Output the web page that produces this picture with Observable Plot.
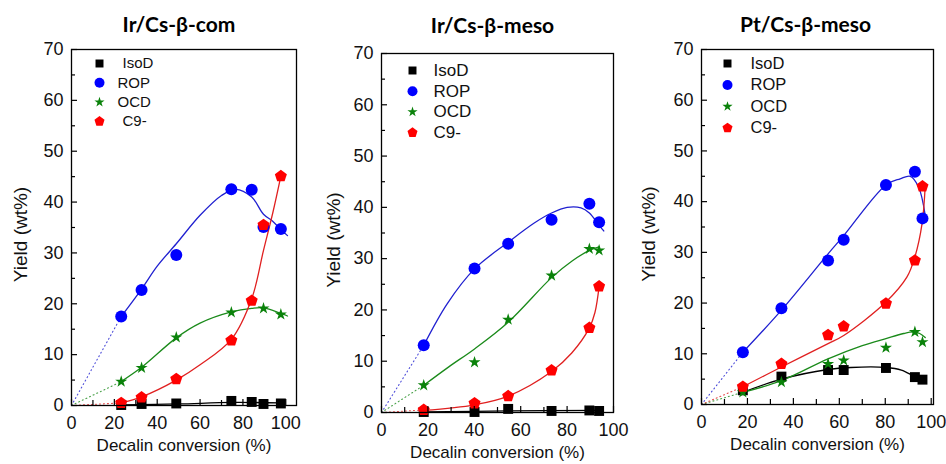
<!DOCTYPE html>
<html><head><meta charset="utf-8">
<script src="https://cdn.jsdelivr.net/npm/d3@7"></script>
<script src="https://cdn.jsdelivr.net/npm/@observablehq/plot@0.6"></script>
<style>
body{margin:0;background:#fff;}
#wrap{display:flex;width:946px;height:464px;overflow:hidden;}
#wrap svg{display:block;background:#fff;}
</style></head><body><div id="wrap"></div>
<script>
// ---------- shared ----------
const seriesNames = ["IsoD", "ROP", "OCD", "C9-"];
const yTicks = [0, 10, 20, 30, 40, 50, 60, 70];
const yMinorTicks = [5, 15, 25, 35, 45, 55, 65];
const xTicks = [0, 20, 40, 60, 80, 100];
const xMinorTicks = [10, 30, 50, 70, 90];
const titles = ["Ir/Cs-β-com", "Ir/Cs-β-meso", "Pt/Cs-β-meso"];
const xLabel = "Decalin conversion (%)";
const yLabel = "Yield (wt%)";

// ---------- Panel 1: Ir/Cs-β-com ----------
const comX    = [23.2, 32.7, 48.9, 74.6, 84.1, 89.6, 97.7];
const comIsoD = [0.1, 0.3, 0.4, 0.9, 0.7, 0.3, 0.4];
const comROP  = [17.5, 22.7, 29.6, 42.5, 42.4, 35.1, 34.7];
const comOCD  = [4.7, 7.4, 13.4, 18.3, null, 19.1, 17.9];
const comC9   = [0.5, 1.6, 5.2, 12.8, 20.6, 35.5, 45.1];
const comIsoDFitX = [23.2, 50, 75, 97.7];
const comIsoDFitY = [0.1, 0.3, 0.6, 0.5];
const comROPFitX = [23.2, 32.7, 40, 48.9, 60, 70, 76.6, 84.1, 89.6, 94, 97.7, 100.8];
const comROPFitY = [17.5, 22.9, 27.4, 31.8, 37.4, 41.3, 42.5, 41.0, 37.6, 36.2, 34.6, 33.4];
const comOCDFitX = [23.2, 32.7, 48.9, 60, 74.6, 84.1, 89.6, 97.7, 100.8];
const comOCDFitY = [4.7, 7.5, 13.3, 16.2, 18.4, 19.1, 19.2, 18.1, 17.6];
const comC9FitX = [23.2, 32.7, 48.9, 60, 74.6, 84.1, 89.6, 94, 97.7];
const comC9FitY = [0.5, 1.7, 5.0, 8.0, 13.0, 21.0, 30.5, 38.0, 45.1];

// ---------- Panel 2: Ir/Cs-β-meso ----------
const irmX    = [18.2, 40.1, 54.6, 73.3, 89.6, 93.8];
const irmIsoD = [0.1, 0.1, 0.7, 0.3, 0.4, 0.3];
const irmROP  = [13.1, 28.1, 32.9, 37.6, 40.7, 37.1];
const irmOCD  = [5.3, 9.8, 18.1, 26.7, 31.9, 31.6];
const irmC9   = [0.5, 1.8, 3.2, 8.2, 16.5, 24.6];
const irmIsoDFitX = [18.2, 54.6, 93.8];
const irmIsoDFitY = [0.1, 0.3, 0.4];
const irmROPFitX = [18.2, 28.3, 40.1, 54.6, 66, 73.3, 80, 86, 89.6, 93.8, 95.8];
const irmROPFitY = [13.1, 21.2, 28.0, 33.2, 37.0, 38.9, 40.0, 39.9, 38.9, 36.5, 35.4];
const irmOCDFitX = [18.2, 29, 40.1, 54.6, 73.3, 82, 89.6, 93.8];
const irmOCDFitY = [5.3, 8.9, 12.4, 17.6, 26.3, 29.5, 31.6, 32.3];
const irmC9FitX = [18.2, 40.1, 54.6, 73.3, 82, 89.6, 92, 93.8];
const irmC9FitY = [0.4, 1.5, 3.2, 8.0, 11.6, 16.5, 19.5, 24.6];

// ---------- Panel 3: Pt/Cs-β-meso ----------
const ptX    = [18.0, 34.8, 55.1, 61.9, 80.3, 92.9, 96.2];
const ptIsoD = [2.8, 5.5, 6.8, 6.8, 7.2, 5.4, 4.9];
const ptROP  = [10.3, 19.0, 28.4, 32.5, 43.3, 45.9, 36.7];
const ptOCD  = [2.4, 4.4, 8.0, 8.7, 11.2, 14.3, 12.3];
const ptC9   = [3.5, 8.0, 13.7, 15.4, 19.9, 28.4, 43.0];
const ptIsoDFitX = [18, 34.8, 55.1, 65, 80.3, 87, 92.9, 96.2];
const ptIsoDFitY = [2.4, 5.0, 6.9, 7.3, 7.3, 6.8, 5.5, 4.9];
const ptROPFitX = [18, 34.8, 55.1, 61.9, 80.3, 86.5, 90.9, 94.5, 97.4];
const ptROPFitY = [10.3, 18.6, 29.7, 33.3, 43.3, 44.5, 45.0, 42.9, 37.3];
const ptOCDFitX = [18, 34.8, 55.1, 70, 80.3, 88, 92.5, 95, 97.4];
const ptOCDFitY = [2.4, 4.7, 9.0, 11.6, 13.0, 14.0, 14.3, 14.0, 13.2];
const ptC9FitX = [18, 34.8, 55.1, 61.9, 80.3, 89.4, 92.9, 96.0, 97.4];
const ptC9FitY = [3.5, 7.4, 12.0, 13.6, 20.2, 25.1, 29.1, 35.6, 43.2];

const origin = [0, 0];

// ---------- styling ----------
const pentagon = {draw(ctx, size) {
  const r = Math.sqrt(size / 2.378);
  for (let i = 0; i < 5; i++) {
    const a = -Math.PI / 2 + i * 2 * Math.PI / 5;
    const x = r * Math.cos(a), y = r * Math.sin(a);
    if (i === 0) ctx.moveTo(x, y); else ctx.lineTo(x, y);
  }
  ctx.closePath();
}};
const colors = ["#000000", "#0000ff", "#0a820a", "#ff0000"];
const lineColors = ["#000000", "#2020d0", "#1a8a1a", "#e02020"];
const symbols = ["square", "circle", "star", pentagon];
const dotR = [5.6, 6, 3.8, 5.5];
const legR = [4.5, 5, 3.2, 4.6];
const baseFont = "'Liberation Sans', Arial, sans-serif";

function panel(o) {
  const fw = o.width - o.ml - o.mr, fh = o.height - o.mt - o.mb;
  const ys = [o.isod, o.rop, o.ocd, o.c9];
  const fx = [o.isodFitX, o.ropFitX, o.ocdFitX, o.c9FitX];
  const fy = [o.isodFitY, o.ropFitY, o.ocdFitY, o.c9FitY];
  const marks = [];
  for (const i of o.dotted) {
    const xs = [origin[0], o.x[0]], yy = [origin[1], ys[i][0]];
    marks.push(Plot.line(xs, {x: xs, y: yy, stroke: lineColors[i], strokeWidth: 1.1, strokeDasharray: "1,3", strokeOpacity: 0.8}));
  }
  for (let i = 0; i < 4; i++) {
    marks.push(Plot.line(fx[i], {x: fx[i], y: fy[i], curve: "catmull-rom", stroke: lineColors[i], strokeWidth: 1.3}));
  }
  for (const i of [0, 1, 2, 3]) {
    marks.push(Plot.dot(o.x, {x: o.x, y: ys[i], symbol: symbols[i], r: dotR[i], fill: colors[i], stroke: "none"}));
  }
  seriesNames.forEach((n, i) => {
    marks.push(Plot.dot([n], {frameAnchor: "top-left", dx: o.legX, dy: o.legY + i * o.legStep, symbol: symbols[i], r: legR[i], fill: colors[i], stroke: "none"}));
    marks.push(Plot.text([n], {frameAnchor: "top-left", text: d => d, dx: o.legTX + (o.legIndent[i] || 0), dy: o.legY + i * o.legStep, textAnchor: "start", lineAnchor: "middle", fontSize: o.legFS, fontFamily: baseFont, fill: "#111"}));
  });
  marks.push(Plot.frame({stroke: "#000", strokeWidth: 1.3}));
  marks.push(Plot.tickY(yTicks, {y: d => d, insetRight: fw - 6, stroke: "#000", strokeWidth: 1.2}));
  marks.push(Plot.tickY(yMinorTicks, {y: d => d, insetRight: fw - 4, stroke: "#000", strokeWidth: 1.2}));
  marks.push(Plot.tickX(xTicks, {x: d => d, insetTop: fh - 6, stroke: "#000", strokeWidth: 1.2}));
  marks.push(Plot.tickX(xMinorTicks, {x: d => d, insetTop: fh - 5, stroke: "#000", strokeWidth: 1.2}));
  // tick labels
  marks.push(Plot.text(yTicks, {y: d => d, text: d => String(d), frameAnchor: "left", dx: -8, textAnchor: "end", lineAnchor: "middle", fontSize: 18, fontFamily: baseFont, fill: "#111"}));
  marks.push(Plot.text(xTicks, {x: d => d, text: d => String(d), frameAnchor: "bottom", dy: 18, textAnchor: "middle", lineAnchor: "middle", fontSize: 18, fontFamily: baseFont, fill: "#111"}));
  // titles & labels
  marks.push(Plot.text([o.title], {frameAnchor: "top", text: d => d, dx: o.titleDx, dy: o.titleDy, textAnchor: "middle", lineAnchor: "middle", fontSize: 21, fontWeight: "bold", fontFamily: "Lato, 'Open Sans', sans-serif", fill: "#000"}));
  marks.push(Plot.text([yLabel], {frameAnchor: "left", text: d => d, rotate: -90, dx: o.ylabDx, dy: o.ylabDy, textAnchor: "middle", lineAnchor: "middle", fontSize: 19, fontFamily: baseFont, fill: "#111"}));
  marks.push(Plot.text([xLabel], {frameAnchor: "bottom", text: d => d, dy: 40, textAnchor: "middle", lineAnchor: "middle", fontSize: 17, fontFamily: baseFont, fill: "#111"}));
  return Plot.plot({
    width: o.width, height: o.height,
    marginLeft: o.ml, marginRight: o.mr, marginTop: o.mt, marginBottom: o.mb,
    style: "font-family: 'Liberation Sans', Arial, sans-serif; background: #fff; overflow: visible;",
    x: {domain: [0, o.xmax], axis: null},
    y: {domain: [0, 70], axis: null},
    marks
  });
}

const wrap = document.getElementById("wrap");
wrap.append(panel({
  width: 310, height: 464, ml: 71, mr: 14, mt: 49, mb: 59, xmax: 105,
  x: comX, isod: comIsoD, rop: comROP, ocd: comOCD, c9: comC9,
  isodFitX: comIsoDFitX, isodFitY: comIsoDFitY, ropFitX: comROPFitX, ropFitY: comROPFitY,
  ocdFitX: comOCDFitX, ocdFitY: comOCDFitY, c9FitX: comC9FitX, c9FitY: comC9FitY,
  dotted: [1, 2, 3],
  legX: 28, legY: 14, legStep: 19.3, legTX: 46, legIndent: [5, 0, 0, 5], legFS: 15,
  title: titles[0], titleDx: -5, titleDy: -24, ylabDx: -51, ylabDy: 7
}));
wrap.append(panel({
  width: 320, height: 464, ml: 71, mr: 17, mt: 53, mb: 52, xmax: 100,
  x: irmX, isod: irmIsoD, rop: irmROP, ocd: irmOCD, c9: irmC9,
  isodFitX: irmIsoDFitX, isodFitY: irmIsoDFitY, ropFitX: irmROPFitX, ropFitY: irmROPFitY,
  ocdFitX: irmOCDFitX, ocdFitY: irmOCDFitY, c9FitX: irmC9FitX, c9FitY: irmC9FitY,
  dotted: [1, 2, 3],
  legX: 31, legY: 17, legStep: 20.7, legTX: 52, legIndent: [0, 0, 0, 0], legFS: 17,
  title: titles[1], titleDx: -5, titleDy: -27, ylabDx: -48, ylabDy: 7
}));
wrap.append(panel({
  width: 316, height: 464, ml: 71, mr: 13, mt: 49, mb: 60, xmax: 101,
  x: ptX, isod: ptIsoD, rop: ptROP, ocd: ptOCD, c9: ptC9,
  isodFitX: ptIsoDFitX, isodFitY: ptIsoDFitY, ropFitX: ptROPFitX, ropFitY: ptROPFitY,
  ocdFitX: ptOCDFitX, ocdFitY: ptOCDFitY, c9FitX: ptC9FitX, c9FitY: ptC9FitY,
  dotted: [1, 2, 3],
  legX: 26, legY: 14, legStep: 21.5, legTX: 49, legIndent: [0, 0, 0, 0], legFS: 16.5,
  title: titles[2], titleDx: -12, titleDy: -24, ylabDx: -53, ylabDy: 7
}));
</script></body></html>
